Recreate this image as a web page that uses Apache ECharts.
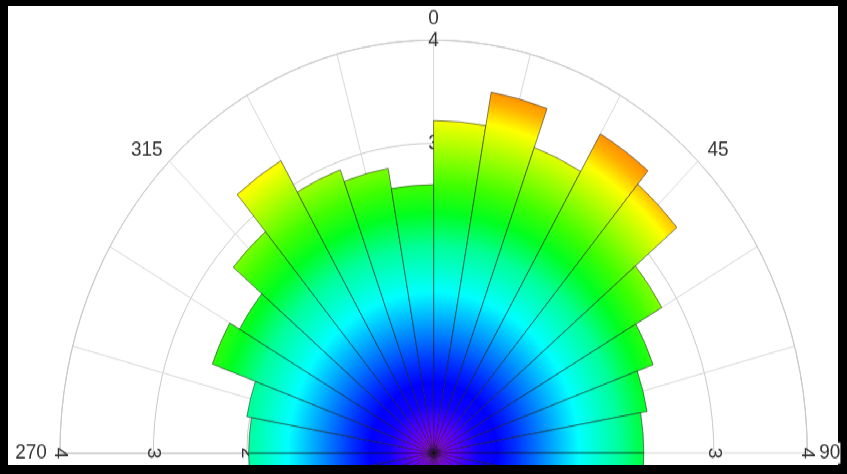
<!DOCTYPE html>
<html><head><meta charset="utf-8">
<script src="https://cdn.jsdelivr.net/npm/echarts@6/dist/echarts.min.js"></script>
<style>
html,body{margin:0;padding:0;background:#000;width:847px;height:474px;overflow:hidden}
#bg{position:absolute;left:8px;top:6px;width:830px;height:459px;background:#fff}
#wrap{position:absolute;left:0;top:0;width:847px;height:465px;overflow:hidden}
#chart{position:absolute;left:0;top:0;width:847px;height:429px;transform:scaleY(1.105);transform-origin:0 0}
</style></head><body>
<div id="bg"></div><div id="wrap"><div id="chart"></div></div>
<script>
// Direction bins (start angle of each 10-degree sector); the lower half is mostly cut off by the frame
const binLabels = ['0','10','20','30','40','50','60','70','80','90','100','110','120','130','140','150','160','170',
  '180','190','200','210','220','230','240','250','260','270','280','290','300','310','320','330','340','350'];
// Bar lengths (radius); bins 100-250 are only visible as a thin strip and are rough estimates
const radii = [3.22, 3.55, 3.15, 3.57, 3.40, 2.82, 2.50, 2.32, 2.25,
  2.25, 2.2, 2.1, 2.0, 1.9, 1.8, 1.8, 1.9, 1.9,
  2.0, 2.0, 1.9, 1.9, 2.0, 2.0, 1.95, 1.95, 1.98,
  1.98, 2.03, 2.52, 2.40, 2.80, 3.27, 2.92, 2.80, 2.60];
// Angle tick labels shown
const angleTickLabels = [270, 315, 0, 45, 90];
// Radius axis range
const radiusMin = 0, radiusMax = 4, radiusStep = 1;

const cx = 433.6, cy = 410, R = 373.7;
const font = "'Liberation Sans', Arial, sans-serif";
const txt = {color:'#333', fontSize:19, fontFamily:font};

const chart = echarts.init(document.getElementById('chart'), null, {renderer:'canvas'});

const grad = new echarts.graphic.RadialGradient(cx, cy, R, [
  {offset:0.00, color:'#b000ff'},
  {offset:0.06, color:'#6000ff'},
  {offset:0.12, color:'#1000ff'},
  {offset:0.17, color:'#0000ff'},
  {offset:0.22, color:'#0030ff'},
  {offset:0.30, color:'#0090ff'},
  {offset:0.39, color:'#00ffff'},
  {offset:0.50, color:'#00ff99'},
  {offset:0.58, color:'#00ff20'},
  {offset:0.65, color:'#40ff00'},
  {offset:0.73, color:'#a0ff00'},
  {offset:0.81, color:'#ffff00'},
  {offset:0.86, color:'#ffb000'},
  {offset:0.90, color:'#ff8800'},
  {offset:1.00, color:'#ff0000'}
], true);

const rotLabel = Object.assign({rotate:-90, margin:0, align:'center', verticalAlign:'middle'}, txt);
const hiddenRadius = (i, lbl) => ({polarIndex:i, type:'value', min:radiusMin, max:radiusMax, interval:radiusStep,
  axisLine:{show:false}, axisTick:{show:false}, splitLine:{show:false},
  axisLabel:lbl || Object.assign({margin:0, align:'center', verticalAlign:'middle'}, txt)});

const option = {
  backgroundColor:'transparent',
  animation:false,
  polar:[0,1,2,3].map(() => ({center:[cx, cy], radius:R})),
  angleAxis:[
    {polarIndex:0, type:'category', data:binLabels, startAngle:90, boundaryGap:true,
     axisLine:{show:false}, axisTick:{show:false}, axisLabel:{show:false}, splitLine:{show:false}},
    {polarIndex:1, type:'value', min:-90, max:90, interval:15, startAngle:180, endAngle:0,
     axisLine:{show:true, lineStyle:{color:'#c8c8c8', width:1}},
     axisTick:{show:false},
     splitLine:{show:true, lineStyle:{color:'#d8d8d8', width:1}},
     axisLabel:Object.assign({margin:1, formatter:(v) => {
        const d = ((v % 360) + 360) % 360;
        if (!angleTickLabels.includes(d)) return '';
        if (d === 0) return '{t|0}';
        if (d === 270) return '{l|270}';
        if (d === 90) return '{s|}{w|90}';
        if (d === 315) return '{a|315}';
        return '{b|45}';
      }, rich:{
        t:Object.assign({padding:[0,0,9,0]}, txt),
        l:Object.assign({padding:[0,12,0,0]}, txt),
        s:{width:11, height:10},
        w:Object.assign({backgroundColor:'#fff'}, txt),
        a:Object.assign({padding:[0,6,0,0]}, txt),
        b:Object.assign({padding:[0,0,0,9]}, txt)
      }}, txt)},
    {polarIndex:2, type:'value', min:0, max:360, startAngle:90, show:false},
    {polarIndex:3, type:'value', min:0, max:360, startAngle:0, show:false}
  ],
  radiusAxis:[
    {polarIndex:0, type:'value', min:radiusMin, max:radiusMax, show:false},
    {polarIndex:1, type:'value', min:radiusMin, max:radiusMax, interval:radiusStep,
     axisLine:{show:true, lineStyle:{color:'#c8c8c8'}}, axisTick:{show:false},
     splitLine:{show:true, lineStyle:{color:'#c8c8c8'}},
     axisLabel:rotLabel},
    hiddenRadius(2),
    hiddenRadius(3, rotLabel)
  ],
  series:[{
    type:'bar', coordinateSystem:'polar', polarIndex:0,
    data:radii, barCategoryGap:'0%',
    itemStyle:{color:grad, borderColor:'rgba(20,20,20,0.75)', borderWidth:0.7},
    zlevel:1, z:5
  }]
};
chart.setOption(option);
</script>
</body></html>
